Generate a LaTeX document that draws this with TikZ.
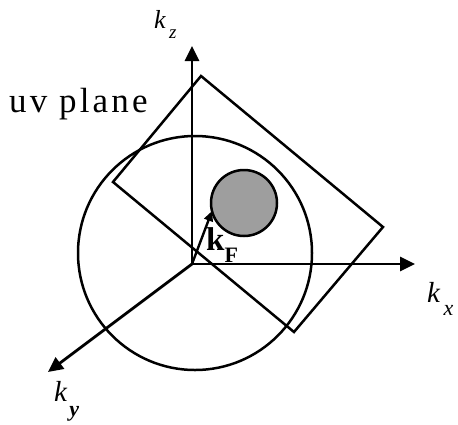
\documentclass[tikz,border=0pt]{standalone}
\usepackage{fontspec}
\setmainfont{Liberation Serif}
\usetikzlibrary{arrows.meta}
\tikzset{
  axis/.style={-{Triangle[length=15pt,width=14pt]},line width=2.8pt},
  outline/.style={draw=black,line width=2.5pt},
  fermi/.style={outline,fill=black!38},
  wavevec/.style={-{Triangle[length=10pt,width=9pt]},line width=2.4pt},
  lbl/.style={inner sep=0pt,anchor=base west}
}
\newcommand{\fsz}[1]{\fontsize{#1}{#1}\selectfont}

\begin{document}
\begin{tikzpicture}[x=1pt,y=-1pt]
      \useasboundingbox (0,0) rectangle (458,424);
      % axes and shapes
      \coordinate (O) at (192,264);
      \coordinate (kzend) at (192,46);
      \coordinate (kxend) at (415,264);
      \coordinate (kyend) at (48,372);
      \coordinate (kFend) at (212,211);
      \coordinate (sphere) at (195,253);
      \coordinate (fermi) at (244,203);
      \draw[outline] (sphere) circle[radius=117pt];
      \draw[outline] (201,76) -- (383,227) -- (294,332) -- (113,182) -- cycle;
      \draw[fermi] (fermi) circle[radius=33pt];
      \draw[axis] (O) -- (kzend);
      \draw[axis] (O) -- (kxend);
      \draw[axis] (O) -- (kyend);
      \draw[wavevec] (O) -- (kFend);
      % labels
      \node[lbl] (uv) at (9,112) {\fsz{35}\addfontfeatures{LetterSpace=9}uv plane};
      \node[lbl] (kz) at (154,28) {\fsz{26}\textit{k}\hspace{3pt}\raisebox{-10pt}{\fsz{19}\textit{z}}};
      \node[lbl] (kx) at (427,302) {\fsz{29}\textit{k}\hspace{3pt}\raisebox{-13pt}{\fsz{22}\textit{x}}};
      \node[lbl] (ky) at (54,401) {\fsz{29}\textit{k}\hspace{2pt}\raisebox{-15pt}{\fsz{22}\textbf{\textit{y}}}};
      \node[lbl] (kF) at (206,250) {\fsz{33}\textbf{k}\raisebox{-12pt}{\fsz{22}\textbf{F}}};
    \end{tikzpicture}
\end{document}
